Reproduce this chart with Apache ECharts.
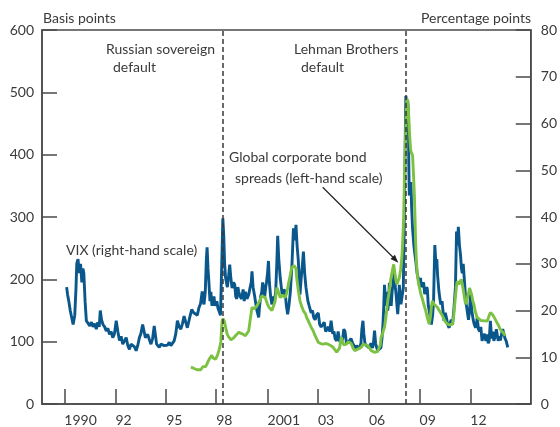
<!DOCTYPE html>
<html><head><meta charset="utf-8">
<script src="https://cdn.jsdelivr.net/npm/echarts@6/dist/echarts.min.js"></script>
<style>html,body{margin:0;padding:0;background:#fff}#c{width:560px;height:427px}</style>
</head><body><div id="c"></div>
<script>
// x-axis tick positions (fractional years) and their labels
const tickYears = [1989.87, 1992.70, 1995.50, 1998.26, 2001.10, 2003.88, 2006.70, 2009.50, 2012.30];
const tickLabels = ['1990', '92', '95', '98', '2001', '03', '06', '09', '12'];
// Russian sovereign default, Lehman Brothers default
const eventYears = [1998.63, 2008.71];

// VIX, percentage points (right-hand scale): [year, value]
const vixData = [
[1990.00,25],[1990.05,23.5],[1990.12,22],[1990.20,20],[1990.28,18.5],[1990.36,17],[1990.45,19],[1990.52,25],[1990.56,30],[1990.63,31],[1990.70,28],[1990.77,30],[1990.84,26],[1990.90,29],[1990.95,28],[1991.02,22],[1991.09,17.8],[1991.18,17.8],[1991.28,16.7],[1991.37,17.5],[1991.46,16.5],[1991.55,17.2],[1991.64,16],[1991.72,17.5],[1991.80,16.5],[1991.86,20],[1991.93,18],[1992.01,17],[1992.10,16.5],[1992.19,15.6],[1992.28,16.2],[1992.37,14.9],[1992.46,15.5],[1992.55,14.2],[1992.64,15],[1992.74,17.8],[1992.83,15.5],[1992.92,13.6],[1993.01,14.5],[1993.10,12.8],[1993.20,13.5],[1993.29,14.2],[1993.38,12.5],[1993.47,11.7],[1993.56,12.8],[1993.65,13.2],[1993.75,12.2],[1993.84,11.4],[1993.93,12.5],[1994.02,14.2],[1994.10,15],[1994.20,17],[1994.28,15.5],[1994.35,14.2],[1994.48,14.9],[1994.57,13.8],[1994.66,12.8],[1994.75,14],[1994.84,16.7],[1994.97,12.8],[1995.05,13],[1995.12,12.1],[1995.21,12.8],[1995.30,13.2],[1995.40,12.5],[1995.49,12.1],[1995.58,12.6],[1995.67,13.2],[1995.76,12.5],[1995.85,12.1],[1995.94,13.5],[1996.03,15],[1996.12,17.8],[1996.22,16.5],[1996.31,16],[1996.40,17.2],[1996.49,18.8],[1996.58,17.5],[1996.67,16.3],[1996.80,18.5],[1996.91,20.2],[1997.02,19.5],[1997.13,19.9],[1997.22,19],[1997.31,20.6],[1997.40,21.5],[1997.49,24.1],[1997.54,22],[1997.59,21.3],[1997.66,24],[1997.72,31],[1997.76,33.5],[1997.81,29],[1997.86,26],[1997.92,22],[1997.97,24],[1998.03,21],[1998.09,22.5],[1998.14,23],[1998.20,21],[1998.30,22],[1998.36,20.5],[1998.41,20],[1998.50,19],[1998.57,30],[1998.63,39.7],[1998.68,36],[1998.73,30],[1998.78,27],[1998.88,25],[1998.95,27.5],[1999.01,29.8],[1999.07,27],[1999.14,24.8],[1999.22,26],[1999.29,25.5],[1999.34,23],[1999.40,22.5],[1999.46,25],[1999.51,24],[1999.58,23],[1999.67,22.5],[1999.75,24.5],[1999.81,22],[1999.88,24],[1999.96,22.5],[2000.06,23.4],[2000.14,25],[2000.20,26],[2000.24,28.4],[2000.30,25],[2000.39,23],[2000.45,21.5],[2000.51,20],[2000.61,18.5],[2000.66,21],[2000.72,23],[2000.78,24],[2000.83,26],[2000.89,24.5],[2000.94,23],[2001.00,25],[2001.04,26],[2001.10,28],[2001.15,30.6],[2001.20,26],[2001.27,23],[2001.34,21.3],[2001.40,23],[2001.48,22],[2001.55,24],[2001.61,30],[2001.66,36],[2001.72,31],[2001.80,27],[2001.86,25],[2001.92,23],[2002.00,24.5],[2002.07,24],[2002.14,21],[2002.21,19.2],[2002.28,21],[2002.36,24],[2002.45,30],[2002.53,37.6],[2002.60,35],[2002.67,38.3],[2002.73,34],[2002.80,30.6],[2002.89,23.4],[2002.96,27],[2003.03,30],[2003.08,32.6],[2003.15,28],[2003.22,25],[2003.26,24.8],[2003.33,22],[2003.40,21],[2003.51,19.5],[2003.58,20],[2003.65,18.5],[2003.73,18],[2003.80,19],[2003.90,19.5],[2003.98,17],[2004.06,16.5],[2004.15,17],[2004.23,17.5],[2004.31,15.5],[2004.39,15.8],[2004.47,16.5],[2004.54,15.5],[2004.61,17.8],[2004.70,15],[2004.77,15.5],[2004.83,14],[2004.92,13.5],[2005.00,15.5],[2005.08,13.5],[2005.16,13],[2005.25,14],[2005.31,16],[2005.38,15.5],[2005.46,13],[2005.55,12.8],[2005.62,13.5],[2005.71,14],[2005.80,13],[2005.87,12.5],[2005.95,11.8],[2006.02,12.5],[2006.09,12.5],[2006.17,11.8],[2006.26,13],[2006.31,16],[2006.37,17.8],[2006.42,15],[2006.48,13],[2006.56,12.5],[2006.64,12.7],[2006.72,12],[2006.81,13],[2006.90,12],[2006.95,13],[2007.01,15.7],[2007.07,13],[2007.13,12],[2007.19,11.5],[2007.27,11.5],[2007.36,12],[2007.42,14],[2007.46,16],[2007.51,20],[2007.56,25.5],[2007.60,23],[2007.63,21],[2007.69,24],[2007.74,20],[2007.79,22],[2007.83,25.9],[2007.88,22],[2007.93,21],[2007.98,24],[2008.04,26],[2008.11,28.4],[2008.16,25],[2008.21,23],[2008.25,21],[2008.29,19.2],[2008.34,22],[2008.38,25.5],[2008.43,23],[2008.47,21.3],[2008.53,23],[2008.60,24.8],[2008.66,41],[2008.71,58],[2008.74,65.9],[2008.79,64.5],[2008.84,65],[2008.88,62.4],[2008.90,52],[2008.93,44.6],[2008.97,46],[2009.02,47.5],[2009.06,42],[2009.11,37.6],[2009.18,34],[2009.24,32],[2009.29,30.5],[2009.36,28],[2009.42,27],[2009.48,25.5],[2009.55,27],[2009.60,25],[2009.66,24.8],[2009.72,26],[2009.78,23.5],[2009.84,23.4],[2009.90,25],[2009.93,24.5],[2009.98,21],[2010.03,20],[2010.09,18.5],[2010.15,17],[2010.22,19],[2010.27,22],[2010.34,34],[2010.40,30],[2010.45,31],[2010.49,27.7],[2010.57,24],[2010.62,22.5],[2010.67,21.3],[2010.74,22],[2010.80,19.5],[2010.85,17.8],[2010.92,19.5],[2010.98,18.5],[2011.05,17],[2011.13,16.3],[2011.20,17.5],[2011.25,18],[2011.32,17],[2011.40,20.6],[2011.48,25],[2011.54,36.9],[2011.58,34],[2011.64,37.9],[2011.70,34],[2011.76,31.9],[2011.81,29],[2011.86,28],[2011.91,30],[2011.95,29.8],[2012.00,25],[2012.05,22],[2012.13,19.9],[2012.20,18],[2012.26,20],[2012.31,23.4],[2012.38,20],[2012.46,18],[2012.52,17],[2012.59,16.3],[2012.64,17],[2012.68,18.5],[2012.75,16],[2012.82,15.5],[2012.88,16.5],[2012.95,13.5],[2013.02,14.5],[2013.09,15],[2013.16,13.5],[2013.23,14.9],[2013.29,13],[2013.34,13.5],[2013.41,17.8],[2013.46,15],[2013.50,14],[2013.55,15.5],[2013.60,13.5],[2013.68,14.5],[2013.74,16],[2013.78,15.7],[2013.84,13.5],[2013.90,14.5],[2013.96,13.6],[2014.03,15],[2014.09,16],[2014.15,15.7],[2014.22,14],[2014.28,13.5],[2014.37,12.1]
];

// Global corporate bond spreads, basis points (left-hand scale): [year, value]
const spreadData = [
[1996.86,59],[1996.95,57],[1997.04,57],[1997.12,56],[1997.20,55],[1997.30,54],[1997.41,55],[1997.53,60],[1997.62,62],[1997.68,60],[1997.75,64],[1997.81,68],[1997.90,73],[1997.95,75],[1998.02,78],[1998.08,74],[1998.15,72],[1998.23,72],[1998.33,78],[1998.41,85.7],[1998.47,92],[1998.52,100],[1998.56,120],[1998.59,133.5],[1998.64,137],[1998.68,139],[1998.72,132],[1998.77,125],[1998.82,118],[1998.87,112],[1998.94,108],[1999.01,106],[1999.08,103],[1999.14,104],[1999.22,106],[1999.34,110],[1999.42,113],[1999.51,115],[1999.60,113],[1999.67,113],[1999.78,111],[1999.88,109.6],[1999.98,112],[2000.06,117.6],[2000.14,135],[2000.24,154.8],[2000.32,152],[2000.39,153],[2000.45,156],[2000.51,157.5],[2000.58,160],[2000.66,165],[2000.72,170],[2000.79,173.4],[2000.88,172],[2000.97,170.7],[2001.04,165],[2001.10,160],[2001.18,155],[2001.25,152],[2001.34,150],[2001.43,149.5],[2001.52,165],[2001.61,186.7],[2001.68,182],[2001.74,176],[2001.80,170.7],[2001.86,173],[2001.92,175],[2002.00,172],[2002.07,170.7],[2002.16,178],[2002.25,192],[2002.34,205],[2002.43,218.6],[2002.50,216],[2002.56,222],[2002.62,223.9],[2002.66,218],[2002.71,202.6],[2002.80,182],[2002.89,165.5],[2002.98,157],[2003.08,149.5],[2003.19,145],[2003.27,138],[2003.35,133.5],[2003.45,127],[2003.53,122],[2003.62,117.6],[2003.72,110],[2003.82,104],[2003.90,99],[2004.03,97],[2004.17,96],[2004.30,97],[2004.45,96],[2004.58,94],[2004.72,91],[2004.82,88],[2004.92,83],[2005.00,80],[2005.08,90],[2005.14,102],[2005.18,107],[2005.24,100],[2005.30,95],[2005.36,93.6],[2005.46,96],[2005.56,100],[2005.64,101.6],[2005.72,97],[2005.82,90],[2005.91,85.7],[2006.00,86],[2006.09,88],[2006.18,90],[2006.28,91],[2006.35,95],[2006.42,93],[2006.52,95],[2006.64,93.6],[2006.72,90],[2006.82,86],[2006.92,83],[2007.00,83],[2007.08,84],[2007.18,84],[2007.28,85.7],[2007.33,95],[2007.37,107],[2007.45,112],[2007.50,118],[2007.56,123],[2007.64,140],[2007.74,165.5],[2007.82,180],[2007.92,202.6],[2008.00,215],[2008.07,223.9],[2008.13,210],[2008.19,198],[2008.25,192],[2008.32,198],[2008.38,202.6],[2008.45,215],[2008.52,235],[2008.56,255.8],[2008.62,300],[2008.66,362],[2008.72,430],[2008.77,475],[2008.80,490],[2008.84,485],[2008.88,474],[2008.92,450],[2008.95,430],[2009.00,410],[2009.02,405],[2009.07,402],[2009.11,399],[2009.16,370],[2009.21,335.6],[2009.25,295],[2009.28,260],[2009.33,225],[2009.39,202.6],[2009.48,188],[2009.57,176],[2009.66,168],[2009.75,158],[2009.84,149.5],[2009.93,138],[2010.03,128],[2010.10,140],[2010.16,158],[2010.21,165.5],[2010.30,160],[2010.40,157],[2010.49,154.8],[2010.58,150],[2010.67,146],[2010.76,141.5],[2010.85,136],[2010.94,131],[2011.03,128],[2011.12,127],[2011.22,128],[2011.31,128],[2011.38,140],[2011.44,160],[2011.49,176],[2011.54,190],[2011.58,197],[2011.66,192],[2011.72,195],[2011.80,200],[2011.86,197],[2011.92,182],[2011.98,170],[2012.04,160],[2012.12,168],[2012.20,177],[2012.26,186],[2012.31,184],[2012.38,175],[2012.44,165],[2012.50,160],[2012.58,148],[2012.68,138.8],[2012.78,136],[2012.88,134],[2012.96,135],[2013.05,133.5],[2013.15,132],[2013.24,133],[2013.32,140],[2013.41,146.8],[2013.48,145],[2013.54,143],[2013.60,141.5],[2013.66,137],[2013.73,133],[2013.80,130],[2013.87,125.6],[2013.95,120],[2014.03,118],[2014.12,114],[2014.23,109.6]
];

const chart = echarts.init(document.getElementById('c'), null, {renderer: 'canvas'});
const axisColor = '#4a4a4a';
const textColor = '#3a3a3a';
const FONT = 'Lato';
const FS = 14;

function axisCommon() {
  return {
    axisLine: {show: true, onZero: false, lineStyle: {color: axisColor, width: 1.5}},
    axisTick: {show: true, inside: true, length: 15, lineStyle: {color: axisColor, width: 1.5}},
    splitLine: {show: false}
  };
}

const txt = (text, x, y, align) => ({
  type: 'text', x: x, y: y, silent: true,
  style: {text: text, fill: textColor, font: FS + 'px ' + FONT, align: align || 'left', verticalAlign: 'middle',
          textAlign: align || 'left', textVerticalAlign: 'middle'}
});

const option = {
  animation: false,
  backgroundColor: '#ffffff',
  textStyle: {fontFamily: FONT},
  grid: {left: 42, right: 27, top: 30, bottom: 20, show: true, borderColor: axisColor, borderWidth: 1.5, containLabel: false},
  xAxis: Object.assign(axisCommon(), {
    type: 'value', min: 1988.64, max: 2015.64,
    axisTick: {show: true, inside: true, length: 15, customValues: tickYears, lineStyle: {color: axisColor, width: 1.5}},
    axisLabel: {
      customValues: tickYears, align: 'left', margin: 9, color: textColor, fontSize: FS, fontFamily: FONT,
      formatter: function (v) {
        const i = tickYears.findIndex(t => Math.abs(t - v) < 1e-6);
        return i >= 0 ? tickLabels[i] : '';
      }
    }
  }),
  yAxis: [
    Object.assign(axisCommon(), {
      type: 'value', position: 'left', min: 0, max: 600, interval: 100,
      axisLabel: {margin: 8, color: textColor, fontSize: FS, fontFamily: FONT}
    }),
    Object.assign(axisCommon(), {
      type: 'value', position: 'right', min: 0, max: 80, interval: 10,
      axisLabel: {margin: 10, color: textColor, fontSize: FS, fontFamily: FONT}
    })
  ],
  series: [
    {
      name: 'VIX', type: 'line', yAxisIndex: 1, data: vixData, showSymbol: false, smooth: false,
      lineStyle: {color: '#0a578c', width: 2.9}, itemStyle: {color: '#0a578c'}, z: 2,
      markLine: {
        silent: true, symbol: ['none', 'none'], label: {show: false},
        lineStyle: {type: [5, 3], color: '#3a3a3a', width: 1.5},
        data: eventYears.map(x => ({xAxis: x}))
      }
    },
    {
      name: 'Global corporate bond spreads', type: 'line', yAxisIndex: 0, data: spreadData, showSymbol: false, smooth: false,
      lineStyle: {color: '#7cc142', width: 2.9}, itemStyle: {color: '#7cc142'}, z: 3
    }
  ],
  graphic: [
    txt('Basis points', 43, 18),
    txt('Percentage points', 531, 18, 'right'),
    txt('Russian sovereign', 106, 49),
    txt('default', 113, 67),
    txt('Lehman Brothers', 294, 49),
    txt('default', 301, 67),
    txt('Global corporate bond', 229, 157),
    txt('spreads (left-hand scale)', 235, 178),
    txt('VIX (right-hand scale)', 66, 250),
    {type: 'polyline', silent: true, shape: {points: [[322.7, 187.3], [393, 257.3]]}, style: {stroke: '#222', lineWidth: 1.2, fill: null}},
    {type: 'polygon', silent: true, shape: {points: [[398.3, 262.7], [394.9, 254.7], [390.5, 259.1]]}, style: {fill: '#222'}}
  ]
};
chart.setOption(option);
</script>
</body></html>
